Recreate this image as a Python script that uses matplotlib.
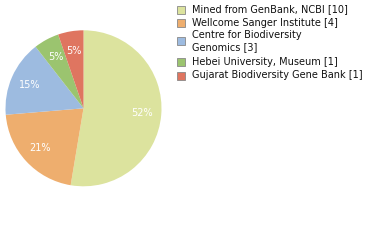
import matplotlib
matplotlib.use("Agg")
from matplotlib import pyplot as plt
from matplotlib.patches import Rectangle
import math

labels = ["Mined from GenBank, NCBI [10]", "Wellcome Sanger Institute [4]",
          "Centre for Biodiversity\nGenomics [3]", "Hebei University, Museum [1]",
          "Gujarat Biodiversity Gene Bank [1]"]
counts = [10, 4, 3, 1, 1]
colors = ["#dce39e", "#eeae6e", "#9dbbe0", "#9bc46f", "#df7560"]

W, H = 380, 240
fig = plt.figure(figsize=(W / 100, H / 100), dpi=100)

# pie: centre (83, 108) px from top, radius 78 px
cx, cy, r = 83.5, 108.3, 78.0
ax = fig.add_axes([(cx - r) / W, (H - cy - r) / H, 2 * r / W, 2 * r / H])
wedges, texts, autotexts = ax.pie(counts, colors=colors, startangle=90, counterclock=False,
                                  autopct=lambda p: "%d%%" % math.floor(p + 1e-9),
                                  pctdistance=0.75, radius=1.0,
                                  wedgeprops=dict(linewidth=0))
for t in autotexts:
    t.set_color("white")
    t.set_fontsize(7)
ax.set_xlim(-1, 1)
ax.set_ylim(-1, 1)
ax.set_aspect("equal")
ax.axis("off")

# legend, drawn by hand
text_y = [9.5, 22.5, 41, 62, 75.5]
sq = 8
for lab, col, y in zip(labels, colors, text_y):
    fig.patches.append(Rectangle((177 / W, (H - y - sq / 2) / H), sq / W, sq / H,
                                 transform=fig.transFigure, facecolor=col,
                                 edgecolor="#888888", linewidth=0.6))
    fig.text(192 / W, (H - y) / H, lab, fontsize=7, va="center", ha="left",
             color="#111111", linespacing=1.25)

fig.savefig("out.png", dpi=100)
